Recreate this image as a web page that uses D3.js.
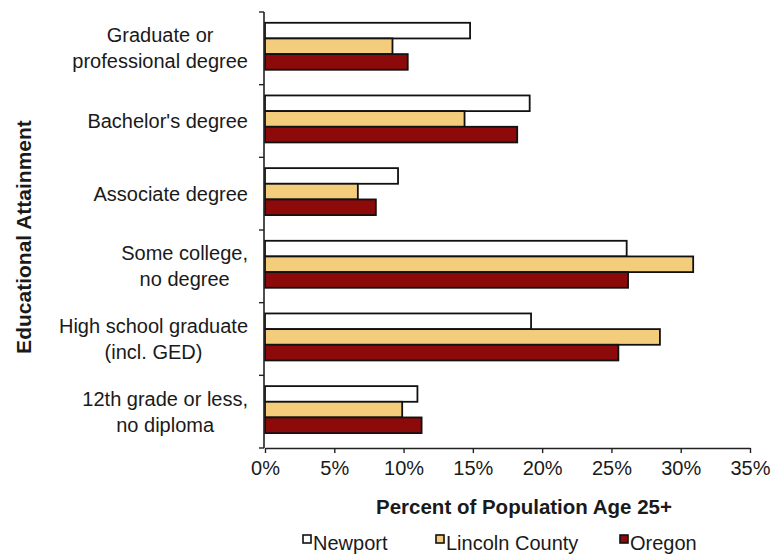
<!DOCTYPE html>
<html>
<head>
<meta charset="utf-8">
<script src="https://cdn.jsdelivr.net/npm/d3@7"></script>
<style>
  body { margin: 0; background: #fff; }
  svg { display: block; font-family: "Liberation Sans", Arial, sans-serif; }
</style>
</head>
<body>
<svg id="chart" width="773" height="556"></svg>
<script>
const categories = [
  ["Graduate or", "professional degree"],
  ["Bachelor's degree"],
  ["Associate degree"],
  ["Some college,", "no degree"],
  ["High school graduate", "(incl. GED)"],
  ["12th grade or less,", "no diploma"]
];
const seriesNames = ["Newport", "Lincoln County", "Oregon"];
const newport = [14.8, 19.1, 9.6, 26.1, 19.2, 11.0];
const lincoln = [9.2, 14.4, 6.7, 30.9, 28.5, 9.9];
const oregon = [10.3, 18.2, 8.0, 26.2, 25.5, 11.3];
const xTicks = [0, 5, 10, 15, 20, 25, 30, 35];
const colors = ["#ffffff", "#f4cd7c", "#8c0a0a"];

const seriesValues = [newport, lincoln, oregon];
const catKeys = categories.map((c, i) => i);

const svg = d3.select("#chart");
const mLeft = 265, mRight = 750, mTop = 12, mBottom = 448;
const textColor = "#1a1a1a";

const x = d3.scaleLinear().domain([0, 35]).range([mLeft, mRight]);
const y = d3.scaleBand().domain(catKeys).range([mTop, mBottom]).paddingInner(0).paddingOuter(0);
const ys = d3.scaleBand().domain(d3.range(seriesNames.length)).range([0, y.bandwidth()])
  .paddingInner(0).paddingOuter(0.82).align(0.42);

// bars
catKeys.forEach(ci => {
  seriesValues.forEach((vals, si) => {
    svg.append("rect")
      .attr("x", x(0))
      .attr("y", y(ci) + ys(si))
      .attr("width", x(vals[ci]) - x(0))
      .attr("height", ys.bandwidth())
      .attr("fill", colors[si])
      .attr("stroke", "#111")
      .attr("stroke-width", 1.8);
  });
});

// bottom axis
const xAxis = d3.axisBottom(x).tickValues(xTicks).tickFormat(d => d + "%").tickSize(5).tickSizeOuter(0);
const gx = svg.append("g").attr("transform", `translate(0,${mBottom})`).call(xAxis);
gx.attr("font-family", null);
gx.select(".domain").attr("stroke", "#222").attr("stroke-width", 1.6);
gx.selectAll(".tick line").attr("stroke", "#222").attr("stroke-width", 1.4);
gx.selectAll(".tick text").attr("font-size", 20).attr("fill", textColor).attr("y", 20).attr("dy", "0.35em");

// left axis line with boundary ticks
svg.append("line").attr("x1", mLeft - 1).attr("x2", mLeft - 1).attr("y1", mTop).attr("y2", mBottom)
  .attr("stroke", "#222").attr("stroke-width", 1.6);
const bounds = catKeys.map(ci => y(ci)).concat([mBottom]);
svg.selectAll(".ytick").data(bounds).enter().append("line")
  .attr("x1", mLeft - 6).attr("x2", mLeft - 1)
  .attr("y1", d => d).attr("y2", d => d)
  .attr("stroke", "#222").attr("stroke-width", 1.4);

// category labels (multi-line blocks are centered, right edge at labelRight)
const labelRight = 248;
catKeys.forEach(ci => {
  const lines = categories[ci];
  const cy = y(ci) + y.bandwidth() / 2;
  const lh = 26;
  const g = svg.append("g");
  const texts = lines.map((t, li) => g.append("text")
      .attr("y", cy + (li - (lines.length - 1) / 2) * lh)
      .attr("dy", "0.35em")
      .attr("font-size", 20)
      .attr("fill", textColor)
      .text(t));
  const maxW = d3.max(texts, t => t.node().getComputedTextLength());
  texts.forEach(t => t.attr("text-anchor", "middle").attr("x", labelRight - maxW / 2));
});

// axis titles
svg.append("text").attr("x", 524).attr("y", 507).attr("dy", "0.35em")
  .attr("text-anchor", "middle").attr("font-size", 20.5).attr("font-weight", "bold").attr("fill", textColor)
  .text("Percent of Population Age 25+");
svg.append("text").attr("transform", `translate(24,237) rotate(-90)`).attr("dy", "0.35em")
  .attr("text-anchor", "middle").attr("font-size", 21).attr("font-weight", "bold").attr("fill", textColor)
  .text("Educational Attainment");

// legend
const legendX = [303, 436, 620];
seriesNames.forEach((n, i) => {
  svg.append("rect").attr("x", legendX[i]).attr("y", 535).attr("width", 8).attr("height", 8)
    .attr("fill", colors[i]).attr("stroke", "#111").attr("stroke-width", 1.6);
  svg.append("text").attr("x", legendX[i] + 10).attr("y", 543).attr("dy", "0.35em")
    .attr("font-size", 20).attr("fill", textColor).text(n);
});
</script>
</body>
</html>
